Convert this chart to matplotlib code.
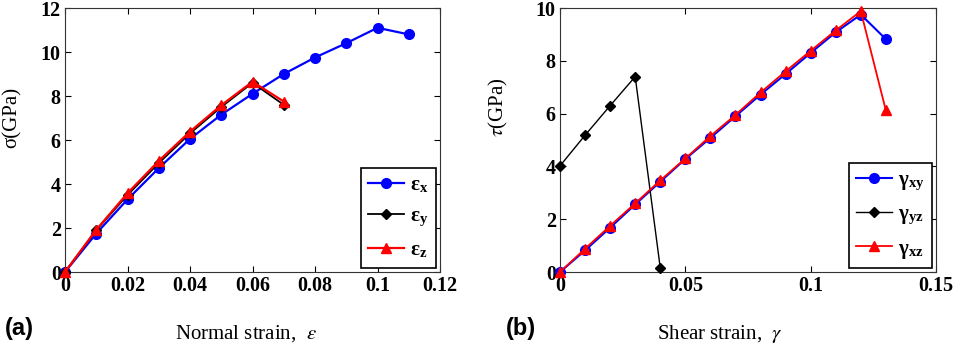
import matplotlib
matplotlib.use("Agg")
import matplotlib.pyplot as plt
from matplotlib.ticker import FormatStrFormatter, MultipleLocator

plt.rcParams['mathtext.fontset'] = 'stix'

# ---- data: panel (a) ----
strain_a = [0.0, 0.01, 0.02, 0.03, 0.04, 0.05, 0.06, 0.07, 0.08, 0.09, 0.10, 0.11]
sig_x = [0.0, 1.75, 3.3, 4.72, 6.05, 7.15, 8.1, 9.0, 9.75, 10.4, 11.1, 10.8]
strain_yz = [0.0, 0.01, 0.02, 0.03, 0.04, 0.05, 0.06, 0.07]
sig_y = [0.0, 1.9, 3.5, 4.95, 6.3, 7.5, 8.6, 7.6]
sig_z = [0.0, 1.92, 3.58, 5.05, 6.38, 7.58, 8.65, 7.75]

# ---- data: panel (b) ----
gam_xy_x = [0.0, 0.01, 0.02, 0.03, 0.04, 0.05, 0.06, 0.07, 0.08, 0.09, 0.10, 0.11, 0.12, 0.13]
tau_xy = [0.0, 0.82, 1.68, 2.56, 3.42, 4.28, 5.08, 5.9, 6.72, 7.5, 8.3, 9.08, 9.75, 8.82]
gam_yz_x = [0.0, 0.01, 0.02, 0.03, 0.04]
tau_yz = [4.02, 5.18, 6.3, 7.4, 0.15]
gam_xz_x = [0.0, 0.01, 0.02, 0.03, 0.04, 0.05, 0.06, 0.07, 0.08, 0.09, 0.10, 0.11, 0.12, 0.13]
tau_xz = [0.0, 0.88, 1.75, 2.6, 3.47, 4.3, 5.15, 5.95, 6.8, 7.6, 8.38, 9.15, 9.88, 6.12]

labels_a = ['ε$_\\mathregular{x}$', 'ε$_\\mathregular{y}$', 'ε$_\\mathregular{z}$']
labels_b = ['γ$_\\mathregular{xy}$', 'γ$_\\mathregular{yz}$', 'γ$_\\mathregular{xz}$']

W, H = 956, 348
fig = plt.figure(figsize=(W / 100, H / 100), dpi=100)

def px_axes(x0, x1, y0, y1):
    return fig.add_axes([x0 / W, 1 - y1 / H, (x1 - x0) / W, (y1 - y0) / H])

ax1 = px_axes(65, 440, 8, 272)
ax2 = px_axes(560, 936, 8, 272)

serif = 'Liberation Serif'

ax1.plot(strain_a, sig_x, '-o', color='#0000ff', lw=1.6, ms=7, label=labels_a[0], zorder=3)
ax1.plot(strain_yz, sig_y, '-D', color='black', lw=1.3, ms=5.5, label=labels_a[1], zorder=4)
ax1.plot(strain_yz, sig_z, '-^', color='#ff0000', lw=1.6, ms=7, label=labels_a[2], zorder=5)
ax1.set_xlim(0, 0.12)
ax1.set_ylim(0, 12)
ax1.xaxis.set_major_locator(MultipleLocator(0.02))
ax1.yaxis.set_major_locator(MultipleLocator(2))

ax2.plot(gam_xy_x, tau_xy, '-o', color='#0000ff', lw=1.5, ms=7, label=labels_b[0], zorder=3)
ax2.plot(gam_yz_x, tau_yz, '-D', color='black', lw=1.0, ms=5.5, label=labels_b[1], zorder=4)
ax2.plot(gam_xz_x, tau_xz, '-^', color='#ff0000', lw=1.3, ms=7, label=labels_b[2], zorder=5)
ax2.set_xlim(0, 0.15)
ax2.set_ylim(0, 10)
ax2.xaxis.set_major_locator(MultipleLocator(0.05))
ax2.yaxis.set_major_locator(MultipleLocator(2))

for ax in (ax1, ax2):
    ax.xaxis.set_major_formatter(FormatStrFormatter('%g'))
    ax.yaxis.set_major_formatter(FormatStrFormatter('%g'))
    ax.tick_params(direction='in', top=True, right=True, length=4, width=0.8, pad=3)
    for lab in ax.get_xticklabels() + ax.get_yticklabels():
        lab.set_fontfamily(serif)
        lab.set_fontweight('bold')
        lab.set_fontsize(14.5)
    for sp in ax.spines.values():
        sp.set_linewidth(0.8)
        sp.set_color('#333333')
    for line in ax.lines:
        line.set_clip_on(False)
    leg = ax.legend(loc='lower right', prop=dict(family=serif, weight='bold', size=15),
                    fancybox=False, edgecolor='black', framealpha=1,
                    borderaxespad=0.2, handlelength=1.7, labelspacing=0.55,
                    handletextpad=0.3, borderpad=0.35)
    leg.get_frame().set_linewidth(1.2)

fig.text(12 / W, 1 - 117 / H, 'σ(GPa)', rotation=90, ha='center', va='center',
         family=serif, size=15)
fig.text(498 / W, 1 - 107 / H, '$\\tau$(GPa)', rotation=90, ha='center', va='center',
         family=serif, size=15)
fig.text(246 / W, 1 - 334 / H, 'Normal strain,  $\\varepsilon$', ha='center', va='center',
         family=serif, size=15)
fig.text(720 / W, 1 - 334 / H, 'Shear strain,  $\\gamma$', ha='center', va='center',
         family=serif, size=15)
fig.text(19 / W, 1 - 328 / H, '(a)', ha='center', va='center',
         family='Liberation Sans', weight='bold', size=17)
fig.text(521 / W, 1 - 328 / H, '(b)', ha='center', va='center',
         family='Liberation Sans', weight='bold', size=17)

fig.savefig('out.png', dpi=100)
